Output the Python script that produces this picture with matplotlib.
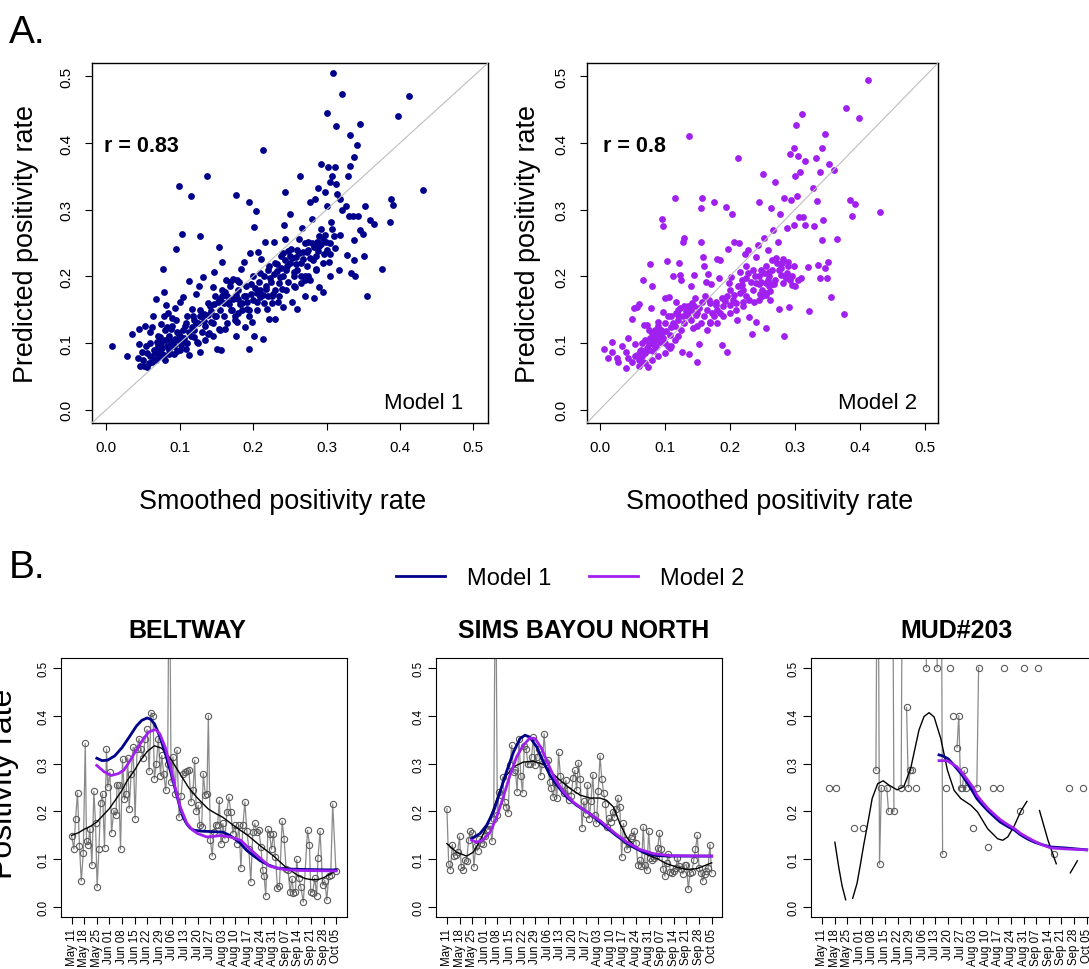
import numpy as np
import matplotlib.pyplot as plt

plt.rcParams['font.family'] = ['Liberation Sans', 'DejaVu Sans']

# ---------------- panel A: smoothed vs predicted positivity rate ----------------
model1_pts = [
    (.007, .095), (.028, .081), (.035, .114), (.044, .121), (.045, .098), (.043, .078), (.046, .066),
    (.051, .065), (.052, .126), (.049, .087), (.054, .096), (.055, .064), (.059, .116), (.062, .124),
    (.064, .141), (.067, .166), (.064, .076), (.069, .101), (.071, .091), (.073, .109), (.074, .129),
    (.077, .211), (.078, .176), (.079, .141), (.081, .157), (.083, .124), (.080, .074), (.085, .106),
    (.087, .094), (.088, .121), (.089, .137), (.092, .084), (.093, .106), (.095, .241), (.096, .116),
    (.099, .336), (.100, .161), (.101, .101), (.103, .264), (.105, .169), (.107, .126), (.108, .091),
    (.110, .141), (.112, .082), (.113, .193), (.115, .321), (.117, .151), (.119, .109), (.120, .134),
    (.122, .174), (.123, .101), (.126, .186), (.128, .086), (.128, .261), (.130, .116), (.132, .199),
    (.133, .144), (.137, .351), (.138, .114), (.141, .156), (.142, .131), (.145, .184), (.146, .206),
    (.148, .141), (.151, .091), (.153, .121), (.154, .244), (.155, .166), (.156, .089), (.158, .221),
    (.160, .141), (.161, .121), (.163, .194), (.166, .161), (.169, .191), (.171, .149), (.173, .196),
    (.176, .322), (.176, .111), (.178, .131), (.180, .166), (.181, .191), (.183, .211), (.187, .221),
    (.189, .124), (.191, .151), (.194, .311), (.195, .091), (.196, .235), (.197, .174), (.199, .131),
    (.201, .274), (.201, .111), (.204, .298), (.205, .161), (.206, .236), (.209, .169), (.211, .226),
    (.213, .389), (.214, .106), (.216, .251), (.217, .181), (.219, .151), (.221, .216), (.222, .136),
    (.224, .191), (.227, .174), (.229, .251), (.230, .136), (.232, .219), (.234, .161), (.236, .199),
    (.238, .231), (.239, .181), (.241, .154), (.242, .277), (.244, .326), (.244, .256), (.246, .216),
    (.248, .191), (.250, .294), (.251, .241), (.253, .161), (.255, .206), (.257, .184), (.259, .229),
    (.260, .151), (.262, .256), (.264, .351), (.265, .201), (.266, .273), (.268, .236), (.270, .171),
    (.271, .194), (.273, .236), (.275, .251), (.277, .311), (.278, .194), (.280, .286), (.282, .224),
    (.283, .167), (.284, .316), (.286, .211), (.287, .252), (.289, .332), (.290, .184), (.292, .369),
    (.293, .271), (.295, .176), (.296, .234), (.298, .326), (.299, .251), (.300, .306), (.302, .364),
    (.303, .221), (.305, .341), (.306, .281), (.308, .351), (.309, .505), (.300, .445), (.321, .474),
    (.313, .426), (.332, .412), (.346, .429), (.341, .397), (.337, .379), (.332, .366), (.329, .351),
    (.311, .364), (.313, .339), (.319, .316), (.314, .324), (.321, .299), (.327, .306), (.330, .290),
    (.336, .290), (.343, .291), (.352, .306), (.359, .285), (.364, .279), (.346, .269), (.349, .264),
    (.337, .255), (.319, .262), (.312, .242), (.305, .234), (.307, .271), (.328, .232), (.338, .225),
    (.351, .231), (.317, .210), (.305, .200), (.334, .205), (.339, .200), (.355, .171), (.375, .211),
    (.386, .281), (.388, .316), (.391, .307), (.398, .440), (.413, .471), (.431, .330),
    (.060, .080), (.065, .090), (.070, .095), (.075, .100), (.080, .105), (.085, .110), (.090, .100),
    (.095, .105), (.100, .110), (.105, .120), (.080, .120), (.090, .125), (.095, .135), (.100, .090),
    (.110, .100), (.115, .110), (.120, .120), (.125, .130), (.130, .140), (.135, .125), (.140, .115),
    (.145, .130), (.150, .140), (.155, .150), (.160, .160), (.165, .170), (.170, .150), (.175, .135),
    (.180, .145), (.185, .160), (.190, .170), (.195, .150), (.200, .165), (.205, .175), (.210, .180),
    (.215, .200), (.220, .170), (.225, .160), (.230, .180), (.235, .190), (.240, .200), (.245, .210),
    (.250, .220), (.255, .200), (.260, .210), (.265, .220), (.270, .200), (.275, .240), (.280, .250),
    (.285, .230), (.290, .245), (.295, .255), (.300, .240), (.070, .110), (.075, .085), (.085, .090),
    (.060, .100), (.055, .085), (.050, .075), (.058, .070), (.068, .075), (.078, .082), (.088, .100),
    (.098, .115), (.108, .130), (.118, .140), (.128, .150), (.138, .160), (.148, .170), (.158, .180),
    (.168, .185), (.178, .195), (.125, .100), (.135, .105), (.145, .110), (.155, .120), (.165, .130),
    (.175, .140), (.185, .150), (.195, .140), (.205, .150), (.215, .160), (.225, .170), (.235, .170),
    (.245, .180), (.255, .185), (.265, .190), (.275, .200), (.285, .210), (.295, .220), (.305, .250),
    (.310, .260), (.290, .260), (.270, .250), (.260, .240), (.250, .230), (.240, .235), (.230, .220),
    (.220, .210), (.210, .205), (.200, .200), (.190, .185), (.180, .180),
    (.062, .072), (.066, .085), (.072, .079), (.076, .092), (.082, .095), (.086, .083), (.092, .095),
    (.096, .088), (.102, .097), (.106, .107), (.112, .116), (.116, .124), (.122, .130), (.127, .141),
    (.133, .133), (.138, .142), (.143, .148), (.147, .158), (.152, .162), (.157, .171), (.162, .176),
    (.167, .158), (.172, .166), (.177, .172), (.182, .158), (.187, .170), (.192, .162), (.197, .188),
    (.203, .183), (.208, .192), (.213, .172), (.218, .185), (.223, .198), (.228, .203), (.233, .208),
    (.238, .212), (.243, .225), (.248, .238), (.253, .228), (.258, .218), (.263, .235), (.268, .226),
    (.273, .215), (.278, .228), (.283, .244), (.288, .238), (.293, .248), (.298, .262), (.084, .145),
    (.094, .152),
]

model2_pts = [
    (.007, .091), (.013, .078), (.019, .102), (.019, .086), (.027, .078), (.028, .072), (.035, .096),
    (.040, .086), (.041, .063), (.044, .108), (.044, .077), (.049, .136), (.050, .072), (.052, .152),
    (.054, .098), (.057, .154), (.061, .159), (.064, .089), (.067, .195), (.068, .127), (.072, .127),
    (.074, .064), (.078, .219), (.079, .152), (.081, .186), (.083, .112), (.086, .094), (.090, .132),
    (.092, .107), (.096, .286), (.098, .276), (.097, .147), (.101, .167), (.104, .223), (.106, .169),
    (.108, .092), (.110, .124), (.113, .200), (.115, .318), (.117, .162), (.120, .142), (.122, .220),
    (.123, .202), (.125, .194), (.127, .086), (.128, .252), (.130, .257), (.134, .147), (.137, .411),
    (.138, .084), (.141, .185), (.143, .122), (.145, .202), (.148, .142), (.150, .072), (.153, .099),
    (.155, .303), (.156, .252), (.158, .318), (.159, .229), (.161, .216), (.164, .192), (.166, .204),
    (.169, .131), (.171, .188), (.176, .312), (.178, .157), (.180, .226), (.183, .197), (.185, .224),
    (.188, .097), (.192, .163), (.194, .304), (.196, .086), (.197, .241), (.200, .157), (.202, .199),
    (.203, .294), (.206, .172), (.207, .251), (.211, .134), (.213, .377), (.214, .250), (.215, .207),
    (.218, .187), (.220, .162), (.223, .233), (.225, .197), (.228, .239), (.230, .139), (.233, .192),
    (.234, .114), (.237, .161), (.240, .229), (.241, .131), (.243, .247), (.245, .311), (.246, .174),
    (.248, .192), (.251, .353), (.252, .257), (.255, .123), (.256, .172), (.258, .239), (.260, .207),
    (.262, .164), (.264, .303), (.265, .189), (.267, .269), (.270, .342), (.271, .227), (.274, .252),
    (.275, .151), (.277, .294), (.279, .202), (.281, .226), (.283, .111), (.284, .318), (.286, .197),
    (.288, .272), (.290, .222), (.291, .154), (.293, .384), (.294, .314), (.296, .187), (.298, .277),
    (.299, .393), (.300, .350), (.302, .427), (.303, .321), (.305, .381), (.306, .289), (.308, .357),
    (.310, .197), (.311, .444), (.313, .289), (.315, .373), (.316, .277), (.320, .214), (.322, .148),
    (.328, .333), (.330, .275), (.332, .378), (.334, .313), (.335, .217), (.338, .356), (.339, .198),
    (.341, .254), (.342, .392), (.343, .284), (.346, .413), (.347, .213), (.350, .198), (.352, .368),
    (.351, .222), (.356, .169), (.360, .359), (.364, .256), (.376, .143), (.378, .453), (.385, .314),
    (.388, .291), (.392, .309), (.398, .438), (.412, .494), (.431, .297),
    (.060, .075), (.065, .080), (.070, .085), (.075, .090), (.080, .100), (.085, .105), (.090, .110),
    (.095, .115), (.100, .100), (.105, .095), (.085, .120), (.090, .125), (.080, .115), (.070, .105),
    (.075, .120), (.065, .100), (.055, .080), (.060, .065), (.070, .070), (.080, .075), (.090, .080),
    (.100, .085), (.110, .095), (.115, .105), (.120, .110), (.125, .120), (.130, .130), (.135, .140),
    (.140, .150), (.145, .155), (.150, .145), (.155, .130), (.160, .140), (.165, .150), (.170, .160),
    (.175, .140), (.180, .130), (.185, .145), (.190, .155), (.195, .170), (.200, .180), (.205, .165),
    (.210, .150), (.215, .175), (.220, .180), (.225, .170), (.230, .165), (.235, .180), (.240, .190),
    (.245, .200), (.250, .180), (.255, .190), (.260, .200), (.265, .210), (.270, .195), (.275, .210),
    (.280, .220), (.285, .200), (.290, .215), (.295, .200), (.300, .185), (.305, .195), (.250, .170),
    (.260, .185), (.245, .165), (.255, .175), (.110, .140), (.120, .150), (.130, .155), (.140, .135),
    (.150, .125), (.165, .120), (.170, .130), (.180, .150), (.190, .140), (.200, .145), (.210, .160),
    (.220, .155), (.100, .130), (.105, .140), (.115, .125), (.120, .135),
    (.058, .082), (.062, .088), (.066, .072), (.072, .093), (.076, .098), (.078, .108), (.082, .088),
    (.084, .097), (.088, .115), (.092, .102), (.094, .120), (.098, .107), (.102, .118), (.108, .112),
    (.112, .130), (.118, .145), (.124, .152), (.128, .140), (.132, .148), (.136, .155), (.142, .160),
    (.147, .168), (.152, .152), (.158, .162), (.162, .170), (.168, .165), (.172, .145), (.178, .162),
    (.188, .168), (.198, .190), (.212, .185), (.218, .195), (.228, .205), (.238, .200), (.248, .210),
    (.252, .205), (.258, .195), (.262, .178), (.268, .188), (.272, .220), (.278, .212), (.282, .190),
    (.288, .205), (.292, .195), (.298, .215), (.245, .188), (.235, .210), (.225, .215), (.255, .215),
    (.265, .225),
]

r_values = ['r = 0.83', 'r = 0.8']
model_names = ['Model 1', 'Model 2']
model_colors = ['#00008B', '#A020F0']
rate_ticks = [0.0, 0.1, 0.2, 0.3, 0.4, 0.5]

# ---------------- panel B: daily positivity per site ----------------
date_labels = ['May 11', 'May 18', 'May 25', 'Jun 01', 'Jun 08', 'Jun 15', 'Jun 22', 'Jun 29',
               'Jul 06', 'Jul 13', 'Jul 20', 'Jul 27', 'Aug 03', 'Aug 10', 'Aug 17', 'Aug 24',
               'Aug 31', 'Sep 07', 'Sep 14', 'Sep 21', 'Sep 28', 'Oct 05']
date_ticks = np.arange(0, 148, 7)   # days since May 11

beltway_obs = [
    (0, .148), (1.3, .122), (2.2, .184), (3.3, .239), (4.4, .127), (5.4, .055), (6.5, .113), (7.6, .342),
    (8.3, .138), (9.2, .131), (10.2, .164), (11.3, .088), (12.4, .242), (13.3, .176), (14.2, .042),
    (15.2, .121), (16.1, .218), (17.2, .237), (18.3, .124), (19.4, .330), (20.1, .251), (21.3, .282),
    (22.2, .156), (23.5, .202), (24.6, .192), (25.3, .255), (26.2, .255), (27.2, .121), (28.3, .309),
    (29.4, .225), (30.3, .237), (31.2, .312), (32.0, .206), (33.1, .279), (34.2, .334), (35.3, .185),
    (36.4, .331), (37.5, .352), (38.6, .331), (39.7, .312), (40.9, .352), (42.0, .371), (43.1, .284),
    (44.2, .406), (45.3, .399), (46.0, .268), (47.1, .298), (48.2, .352), (49.4, .275), (50.1, .317),
    (51.2, .279), (52.3, .244), (53.4, .300), (54.3, .800), (55.3, .261), (56.4, .314), (57.5, .237),
    (58.6, .328), (59.7, .188), (60.8, .232), (61.9, .279), (63.0, .282), (64.1, .284), (65.2, .286),
    (66.4, .220), (67.5, .244), (68.4, .307), (69.3, .200), (70.4, .213), (71.2, .171), (72.3, .168),
    (73.2, .279), (74.3, .234), (75.2, .237), (76.0, .400), (77.1, .140), (78.2, .107), (78.9, .157),
    (80.0, .172), (81.1, .172), (82.1, .223), (83.0, .133), (84.1, .175), (85.2, .143), (86.3, .199),
    (87.4, .230), (88.5, .199), (89.6, .154), (90.8, .171), (91.9, .133), (93.0, .171), (94.1, .082),
    (95.2, .171), (96.3, .220), (97.4, .159), (98.5, .122), (99.6, .053), (100.7, .157), (101.8, .175),
    (102.9, .157), (104.0, .161), (105.2, .126), (106.3, .077), (107.0, .065), (107.9, .024),
    (109.1, .163), (110.0, .154), (111.1, .121), (112.2, .154), (113.3, .105), (114.4, .040),
    (115.5, .045), (117.0, .180), (118.1, .143), (119.2, .081), (120.3, .077), (121.4, .032),
    (122.5, .060), (123.3, .031), (124.4, .032), (125.1, .100), (126.2, .061), (127.4, .042),
    (128.8, .011), (131.1, .161), (132.2, .131), (132.9, .032), (134.0, .031), (135.1, .061),
    (136.2, .024), (136.9, .103), (138.1, .159), (139.5, .046), (140.7, .056), (141.8, .015),
    (142.9, .065), (144.0, .067), (145.1, .216), (146.9, .076),
]
beltway_smooth = [(0, .150), (4, .156), (7, .163), (10, .168), (14, .178), (17, .190), (21, .206),
                  (24, .222), (28, .244), (31, .265), (35, .286), (38, .305), (42, .325), (46, .337),
                  (50, .332), (55, .310), (58, .292), (62, .268), (65, .250), (69, .232), (72, .220),
                  (76, .205), (80, .196), (84, .188), (91, .168), (98, .150), (105, .128), (112, .108),
                  (119, .084), (126, .066), (130, .060), (133, .058), (137, .058), (140, .062),
                  (144, .070), (147, .077)]
beltway_m1 = [(14, .311), (17, .306), (20, .307), (24, .316), (28, .333), (32, .355), (36, .378),
              (39, .390), (42, .395), (44, .392), (46, .383), (48, .366), (50, .345), (52, .322),
              (54, .296), (56, .270), (58, .240), (60, .212), (62, .188), (64, .174), (66, .165),
              (68, .161), (72, .159), (78, .158), (84, .157), (88, .150), (91, .142), (94, .133),
              (97, .120), (101, .108), (105, .097), (109, .089), (114, .082), (120, .080), (130, .079),
              (147, .078)]
beltway_m2 = [(14, .296), (18, .283), (22, .275), (26, .279), (29, .286), (32, .303), (35, .322),
              (40, .352), (43, .366), (46.6, .371), (49, .362), (52, .334), (55, .293), (57.7, .248),
              (60.4, .209), (64, .176), (67, .162), (70, .154), (75, .147), (79, .148), (83, .150),
              (88, .147), (94, .140), (99, .122), (105, .102), (110, .086), (118, .079), (127, .077),
              (147, .076)]

sims_obs = [.206, .090, .079, .131, .107, .110, .115, .148, .084, .079,
            .098, .096, .140, .159, .155, .084, .129, .118, .143, .135,
            .133, .149, .161, .164, .170, .138, .185, .800, .193, .241,
            .234, .272, .220, .209, .197, .296, .338, .282, .286, .241,
            .352, .275, .239, .337, .331, .298, .300, .314, .355, .296,
            .314, .330, .275, .300, .362, .303, .307, .261, .248, .230,
            .261, .228, .323, .275, .255, .239, .265, .244, .223, .232,
            .270, .286, .244, .302, .268, .166, .221, .195, .255, .185,
            .221, .277, .192, .175, .243, .316, .267, .239, .216, .168,
            .186, .179, .199, .188, .206, .228, .209, .105, .175, .140,
            .121, .133, .145, .148, .159, .134, .089, .098, .086, .168,
            .088, .077, .159, .103, .099, .103, .108, .124, .155, .122,
            .081, .065, .093, .112, .074, .072, .075, .082, .103, .086,
            .081, .070, .088, .089, .038, .072, .074, .098, .121, .150,
            .082, .072, .055, .070, .075, .082, .131, .072]
sims_smooth = [(0, .133), (5.4, .115), (11, .107), (14.6, .115), (18, .136), (22, .168), (25.8, .206),
               (29.5, .244), (33, .275), (37, .293), (42.4, .303), (48, .305), (53.6, .298), (58, .282),
               (62.8, .265), (68.4, .248), (74, .234), (79.5, .228), (85, .228), (88.8, .223),
               (92.5, .209), (96, .175), (100, .145), (105.5, .122), (111, .110), (116.6, .102),
               (122, .091), (127.7, .084), (133, .079), (139, .081), (147, .093)]
sims_m1 = [(13.7, .143), (18.4, .154), (22, .171), (25.8, .199), (29.5, .241), (33, .282), (37, .324),
           (40.6, .352), (43.4, .359), (46, .355), (50, .334), (53.6, .303), (57.3, .275), (61, .255),
           (66.5, .230), (72, .213), (79.5, .195), (87, .171), (94, .150), (101.8, .129), (109, .115),
           (116.6, .108), (124, .107), (147, .107)]
sims_m2 = [(13.7, .140), (16.5, .136), (20, .140), (24, .157), (27.6, .188), (31.3, .230), (35, .275),
           (38.7, .314), (42.4, .338), (46, .353), (49, .352), (52.6, .331), (56.3, .298), (60, .268),
           (64.7, .241), (70, .220), (77.7, .199), (85, .181), (92.5, .157), (100, .136), (107, .121),
           (114.7, .112), (124, .108), (147, .107)]

GAP = (np.nan, np.nan)
mud_obs = [(4, .25), GAP, (8, .25), GAP, (18, .166), GAP, (23, .166), GAP,
           (30, .286), (31, 1.0), (32, .09), (33, .25), GAP, (36, .25), (37, .20), GAP,
           (39, 1.0), (40, .20), GAP, (44, .25), (45, 1.0), GAP,
           (47, .417), (48, .25), (49, .286), (50, .286), GAP, (52, .25), GAP,
           (57, 1.0), (58, .5), GAP, (63, 1.0), (64, .5), GAP, (66, 1.0), (67, .111), GAP,
           (69, .25), GAP, (71, .5), GAP, (73, .40), GAP,
           (75, .333), (76, .40), (77, .25), (78, .25), (79, .286), (80, .25), GAP,
           (84, .166), GAP, (86, .25), (87, .5), GAP, (92, .125), GAP, (95, .25), GAP,
           (99, .25), GAP, (101, .5), GAP, (110, .2), GAP, (112, .5), GAP, (120, .5), GAP,
           (129, .111), GAP, (137, .25), GAP, (145, .25)]
mud_smooth = [(7.2, .136), (9.3, .085), (11.2, .045), (13.2, .016), GAP,
              (17.1, .019), (19.5, .050), (21.4, .090), (23.2, .130), (25.7, .180), (27.9, .227),
              (31, .258), (34, .264), (37.2, .255), (41.8, .245), (45.5, .252), (49.3, .290),
              (53.9, .370), (56.7, .398), (59.5, .406), (62.3, .397), (66, .352), (69.7, .286),
              (73.4, .244), (77.1, .227), (82.7, .213), (86.4, .199), (92, .164), (97.6, .143),
              (100.4, .140), (103.2, .147), (106.9, .171), (110.6, .202), (113.8, .221), GAP,
              (120.8, .202), (125.5, .140), (130.1, .091), GAP, (137.9, .072), (141.8, .097)]
mud_m1 = [(65, .318), (67, .316), (70, .310), (72, .302), (75, .289), (78, .275), (81, .258),
          (84, .240), (86, .227), (89, .214), (92, .202), (96, .188), (99, .178), (103, .169),
          (107, .161), (110, .152), (114, .143), (118, .136), (122, .131), (127, .126), (135, .124),
          (147, .120)]
mud_m2 = [(65, .306), (68, .306), (70, .305), (72, .300), (75, .293), (78, .280), (81, .265),
          (84, .250), (86, .234), (89, .220), (92, .207), (96, .193), (99, .183), (103, .173),
          (107, .164), (110, .155), (114, .146), (118, .138), (122, .131), (127, .124), (135, .122),
          (147, .120)]

W, H = 1089, 970
fig = plt.figure(figsize=(W / 100, H / 100), dpi=100)


def px_rect(l, t, r, b):
    return [l / W, 1 - b / H, (r - l) / W, (b - t) / H]


def xy(pts):
    a = np.array(pts, dtype=float)
    return a[:, 0], a[:, 1]


# ---- A. scatter panels
scatter_rects = [px_rect(91.7, 64, 488, 424), px_rect(586.7, 64, 938, 424)]
ylab_x = [33, 535]
xlab_x = [283, 770]
r_x = [104, 603]
name_x = [463, 917]
for i, pts in enumerate([model1_pts, model2_pts]):
    ax = fig.add_axes(scatter_rects[i])
    x, y = xy(pts)
    ax.scatter(x, y, s=24, color=model_colors[i], linewidths=0, zorder=2)
    ax.axline((0, 0), (1, 1), color='#BEBEBE', lw=0.8, zorder=3)
    ax.set_xlim(-0.02, 0.52)
    ax.set_ylim(-0.02, 0.52)
    ax.set_xticks(rate_ticks, ['%.1f' % t for t in rate_ticks], fontsize=11)
    ax.set_yticks(rate_ticks, ['%.1f' % t for t in rate_ticks], fontsize=11, rotation=90, va='center')
    ax.tick_params(axis='x', length=5, width=0.8, pad=7)
    ax.tick_params(axis='y', length=5, width=0.8, pad=8)
    for s in ax.spines.values():
        s.set_linewidth(1.0)
    fig.text(ylab_x[i] / W, 1 - 244 / H, 'Predicted positivity rate', rotation=90,
             rotation_mode='anchor', ha='center', va='baseline', fontsize=19.4)
    fig.text(xlab_x[i] / W, 1 - 509 / H, 'Smoothed positivity rate',
             ha='center', va='baseline', fontsize=19.4)
    fig.text(r_x[i] / W, 1 - 152 / H, r_values[i], ha='left', va='baseline',
             fontsize=15.5, fontweight='bold')
    fig.text(name_x[i] / W, 1 - 409 / H, model_names[i], ha='right', va='baseline', fontsize=16)

fig.text(9 / W, 1 - 43 / H, 'A.', fontsize=28, va='baseline')
fig.text(9 / W, 1 - 578 / H, 'B.', fontsize=28, va='baseline')

# ---- B. time series panels
sites = [
    ('BELTWAY', 187, px_rect(61, 659, 346.7, 918), xy(beltway_obs), beltway_smooth, beltway_m1, beltway_m2),
    ('SIMS BAYOU NORTH', 584, px_rect(436.3, 659, 722.3, 918),
     (np.arange(len(sims_obs)), np.array(sims_obs)), sims_smooth, sims_m1, sims_m2),
    ('MUD#203', 957, px_rect(811.3, 659, 1097.3, 918), xy(mud_obs), mud_smooth, mud_m1, mud_m2),
]
for title, tx, rect, (ox, oy), smooth, m1, m2 in sites:
    ax = fig.add_axes(rect)
    ax.plot(ox, oy, color='#8a8a8a', lw=0.9, marker='o', ms=4.5, mfc='none',
            mec='#5a5a5a', mew=0.8, zorder=1)
    sx, sy = xy(smooth)
    ax.plot(sx, sy, color='black', lw=1.0, zorder=2)
    for pts, c in [(m1, model_colors[0]), (m2, model_colors[1])]:
        mx, my = xy(pts)
        ax.plot(mx, my, color=c, lw=2.0, zorder=3)
    ax.set_xlim(-5.88, 152.88)
    ax.set_ylim(-0.02, 0.52)
    ax.set_xticks(date_ticks, date_labels, rotation=90, fontsize=8.3)
    ax.set_yticks(rate_ticks, ['%.1f' % t for t in rate_ticks], fontsize=8.3, rotation=90, va='center')
    ax.tick_params(axis='x', length=5, width=0.8, pad=3)
    ax.tick_params(axis='y', length=5.5, width=0.8, pad=3)
    fig.text(tx / W, 1 - 638 / H, title, ha='center', va='baseline', fontsize=18, fontweight='bold')

fig.text(11.7 / W, 1 - 784 / H, 'Positivity rate', rotation=90, rotation_mode='anchor',
         ha='center', va='baseline', fontsize=23)

# legend for the model curves
handles = [plt.Line2D([], [], color=c, lw=2) for c in model_colors]
fig.legend(handles, model_names, loc='center', bbox_to_anchor=(570 / W, 1 - 579 / H), ncol=2,
           frameon=False, fontsize=17, handlelength=2.1, handletextpad=0.9, columnspacing=1.6,
           borderpad=0, borderaxespad=0)

fig.savefig('out.png', dpi=100)
